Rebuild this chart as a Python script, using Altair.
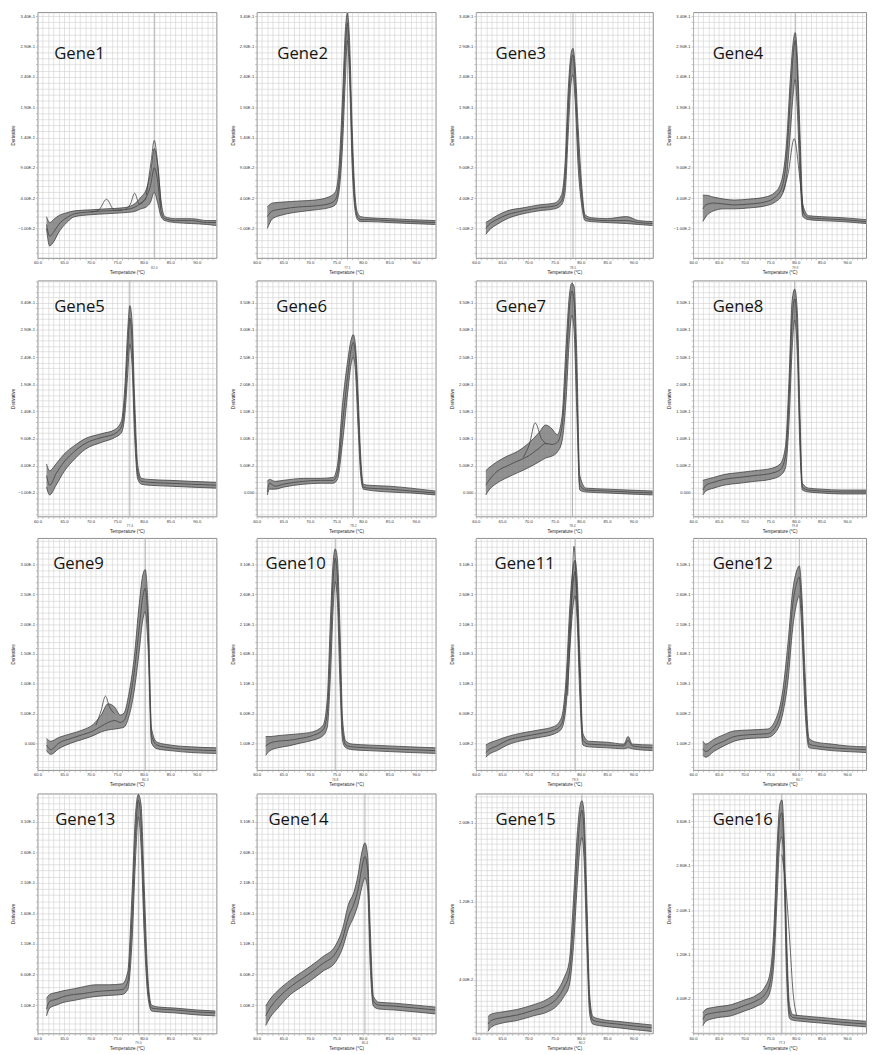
import json
import math
import altair as alt
import pandas as pd

# ---------------- data (derivative values in units of 1E-2) ----------------
GENES = [f"Gene{i}" for i in range(1, 17)]

T_1 = [61.7, 62.3, 63, 64, 65.5, 67, 70, 73, 76, 78, 79.5, 80.5, 81.3, 82, 82.6, 83.3, 84, 86, 89, 92, 93.7]
MID_1 = [-0.35, -2.29, -1.65, -0.35, 0.77, 1.42, 1.74, 1.90, 2.06, 2.39, 3.19, 4.16, 6.10, 9.0, 7.06, 1.74, 0.61, 0.29, 0.29, -0.03, -0.03]
HI_1 = [0.94, -0.03, 0.45, 1.10, 1.58, 1.90, 2.06, 2.23, 2.39, 2.87, 4.16, 5.45, 8.19, 12.2, 9.8, 3.35, 0.94, 0.61, 0.61, 0.29, 0.29]
LO_1 = [-1.0, -3.9, -3.26, -1.65, -0.03, 0.94, 1.26, 1.42, 1.58, 1.74, 2.23, 2.55, 3.35, 4.97, 3.35, 0.94, 0.29, -0.03, -0.19, -0.35, -0.52]
X1A_T = [70, 71.5, 73, 74.5, 76]
X1A_V = [1.7, 2.0, 3.8, 2.0, 2.0]
X1B_T = [76.5, 77.5, 78.3, 79.2, 80.5]
X1B_V = [2.1, 3.0, 4.8, 3.0, 4.0]
X1C_T = [80.5, 81.4, 82, 82.6, 83.3]
X1C_V = [4.5, 10, 13.5, 10, 2.5]

T_2 = [62, 63, 65, 68, 71, 73.5, 74.8, 75.5, 76.2, 76.7, 77.1, 77.5, 78, 78.5, 79, 79.6, 81, 85, 89, 93.7]
MID_2 = [0.94, 1.90, 2.23, 2.55, 2.71, 3.03, 3.68, 6.58, 17.06, 28.35, 32.87, 26.74, 12.23, 3.35, 0.94, 0.45, 0.45, 0.29, 0.13, -0.03]
HI_2 = [2.55, 3.19, 3.35, 3.52, 3.68, 4.16, 4.97, 9.0, 21.1, 31.6, 34.5, 29.97, 15.45, 4.97, 1.58, 0.94, 0.77, 0.61, 0.45, 0.29]
LO_2 = [-1.0, 0.61, 1.26, 1.74, 2.06, 2.39, 2.87, 4.97, 13.03, 23.5, 29.97, 23.5, 9.0, 2.23, 0.45, 0.13, 0.13, -0.03, -0.19, -0.35]

T_3 = [61.9, 62.5, 64, 66, 69, 72, 75, 76.3, 77, 77.6, 78.1, 78.5, 78.9, 79.5, 80.2, 80.8, 82, 85, 88.7, 91, 93.7]
MID_3 = [-1.0, -0.35, 0.45, 1.26, 1.90, 2.39, 2.71, 3.52, 7.39, 18.68, 25.94, 27.55, 23.52, 12.23, 4.16, 0.77, 0.45, 0.29, 0.29, -0.03, -0.19]
HI_3 = [-0.03, 0.29, 1.10, 1.90, 2.39, 2.87, 3.19, 4.48, 9.81, 21.9, 27.55, 28.68, 25.94, 15.45, 5.77, 1.26, 0.77, 0.61, 0.95, 0.29, 0.13]
LO_3 = [-1.97, -1.32, -0.35, 0.61, 1.42, 1.90, 2.23, 2.87, 4.97, 14.65, 22.7, 24.3, 20.3, 9.0, 2.55, 0.29, 0.13, -0.03, -0.19, -0.35, -0.52]

T_4 = [61.9, 62.5, 64, 66, 68, 71, 74, 76, 77.3, 78.2, 79, 79.5, 79.9, 80.3, 80.8, 81.4, 82.5, 85, 89, 93.7]
MID_4 = [2.23, 2.87, 3.19, 3.03, 2.87, 3.03, 3.35, 4.16, 5.77, 10.6, 21.1, 27.55, 29.97, 25.13, 12.23, 1.74, 0.77, 0.61, 0.45, 0.13]
HI_4 = [4.48, 4.48, 4.16, 3.84, 3.68, 3.84, 4.16, 4.97, 7.06, 13.03, 24.32, 29.65, 31.26, 27.55, 15.45, 2.87, 1.10, 0.94, 0.77, 0.45]
LO_4 = [0.13, 0.94, 1.90, 2.23, 2.23, 2.39, 2.71, 3.35, 4.48, 7.39, 15.45, 21.1, 23.5, 18.7, 8.19, 0.94, 0.45, 0.29, 0.13, -0.19]
X4A_T = [77.5, 78.5, 79.7, 80.7, 81.5]
X4A_V = [5, 8, 13.8, 8, 1.5]

T_5 = [61.7, 62.3, 63.5, 65, 67, 69, 72, 74.5, 75.8, 76.5, 77, 77.4, 77.8, 78.3, 78.9, 79.6, 81, 85, 89, 93.7]
MID_5 = [2.21, 0.43, 2.57, 4.71, 6.68, 8.11, 9.18, 9.89, 11.14, 16.5, 25.43, 31.14, 27.21, 12.93, 2.57, 1.14, 0.96, 0.79, 0.61, 0.43]
HI_5 = [4.36, 3.11, 4.36, 6.14, 7.75, 9.0, 9.89, 10.61, 12.21, 19.18, 29.0, 33.46, 30.79, 16.5, 4.0, 1.68, 1.5, 1.32, 1.14, 0.96]
LO_5 = [0.07, -1.36, 0.43, 2.93, 5.25, 7.04, 8.29, 9.18, 10.07, 13.82, 20.96, 26.32, 22.75, 9.36, 1.5, 0.61, 0.43, 0.25, 0.07, -0.11]

T_6 = [62, 62.4, 63.5, 65, 68.8, 72, 74.4, 75.2, 76.2, 77.2, 77.8, 78.2, 78.6, 79.1, 79.6, 80.1, 81, 85, 89, 93.7]
MID_6 = [0.18, 1.79, 1.25, 1.61, 2.14, 2.32, 2.32, 3.57, 13.04, 21.96, 26.43, 27.68, 25.54, 15.71, 5.0, 1.07, 0.89, 0.71, 0.36, 0.0]
HI_6 = [2.14, 2.5, 2.14, 2.32, 2.68, 2.68, 2.86, 5.0, 16.61, 24.64, 28.21, 29.11, 27.32, 18.39, 6.79, 1.61, 1.43, 1.25, 0.89, 0.36]
LO_6 = [-0.36, 0.71, 0.71, 1.07, 1.61, 1.79, 1.79, 2.5, 9.46, 18.93, 23.75, 25.0, 22.5, 12.14, 3.21, 0.71, 0.54, 0.18, 0.0, -0.36]

T_7 = [61.9, 62.5, 64, 66, 68, 70, 72, 73.3, 74.5, 75.5, 76.4, 77.2, 77.8, 78.3, 78.7, 79.2, 79.8, 81, 85, 89, 93.7]
MID_7 = [1.43, 2.32, 3.93, 5.0, 5.89, 6.79, 8.21, 9.11, 8.93, 9.29, 12.14, 22.86, 33.57, 37.14, 35.36, 21.07, 1.43, 0.54, 0.36, 0.18, 0.0]
HI_7 = [4.11, 4.64, 5.71, 6.79, 7.68, 9.11, 11.07, 12.5, 11.79, 10.71, 13.93, 27.32, 36.25, 38.57, 38.04, 26.43, 3.21, 0.89, 0.71, 0.54, 0.36]
LO_7 = [-0.36, 0.54, 1.79, 2.86, 3.75, 4.64, 5.71, 6.43, 6.79, 7.5, 9.46, 17.5, 28.21, 32.68, 30.0, 15.71, 0.54, 0.18, 0.0, -0.18, -0.36]
X7A_T = [69, 70.2, 71.3, 72.5, 73.5]
X7A_V = [6.5, 9, 12.9, 10, 9]

T_8 = [61.9, 62.5, 64, 66, 69, 72, 75, 77, 78, 78.7, 79.3, 79.8, 80.3, 80.8, 81.3, 82.5, 85, 89, 93.7]
MID_8 = [0.54, 1.43, 1.96, 2.5, 2.86, 3.21, 3.57, 4.29, 6.79, 17.5, 31.79, 35.71, 30.0, 12.14, 1.07, 0.54, 0.36, 0.18, 0.18]
HI_8 = [2.32, 2.5, 2.86, 3.39, 3.75, 4.11, 4.46, 5.36, 8.57, 21.07, 35.36, 37.5, 33.57, 15.71, 1.79, 0.89, 0.71, 0.54, 0.54]
LO_8 = [-0.36, 0.36, 0.89, 1.43, 1.79, 2.14, 2.5, 3.21, 4.64, 13.04, 26.43, 31.79, 25.54, 8.57, 0.54, 0.18, 0.0, -0.18, -0.18]

T_9 = [61.7, 62.5, 64, 66.3, 68.5, 70.5, 72, 73.3, 74.6, 75.6, 76.3, 77.2, 78.2, 79.2, 79.8, 80.3, 80.8, 81.5, 82.5, 85, 89, 93.7]
MID_9 = [-0.32, -1.1, 0, 0.79, 1.42, 2.05, 2.84, 3.47, 3.79, 3.47, 3.79, 6.31, 11.83, 19.72, 24.45, 26.03, 20.5, 1.26, -0.32, -0.79, -1.1, -1.26]
HI_9 = [0.79, 0.32, 0.95, 1.58, 2.21, 3.15, 4.73, 6.62, 5.99, 4.73, 5.05, 8.2, 14.2, 23.66, 28.08, 29.18, 23.66, 2.37, 0.16, -0.32, -0.63, -0.79]
LO_9 = [-1.26, -1.89, -0.95, 0, 0.63, 1.26, 1.89, 2.21, 2.37, 2.52, 2.68, 4.42, 8.68, 15.77, 20.5, 22.08, 16.56, 0, -0.95, -1.26, -1.58, -1.74]
X9A_T = [71, 72, 72.8, 73.6, 74.5]
X9A_V = [3.0, 5.5, 7.9, 6.0, 5.0]

T_10 = [61.7, 62.5, 64, 66, 68.2, 70.5, 72.5, 73.3, 73.9, 74.4, 74.8, 75.2, 75.7, 76.2, 76.8, 78, 81, 85, 89, 93.7]
MID_10 = [0.53, 1.0, 1.32, 1.47, 1.79, 2.26, 3.21, 6.05, 17.09, 28.13, 32.07, 28.92, 15.51, 2.89, 0.68, 0.37, 0.21, 0.05, -0.1, -0.26]
HI_10 = [2.1, 2.1, 2.26, 2.42, 2.58, 2.89, 4.0, 8.41, 21.82, 31.28, 33.65, 32.07, 20.24, 4.79, 1.32, 0.84, 0.68, 0.53, 0.37, 0.21]
LO_10 = [-1.05, -0.26, 0.21, 0.53, 1.0, 1.47, 2.26, 3.68, 12.36, 23.4, 28.13, 24.97, 10.78, 1.32, 0.21, -0.1, -0.26, -0.42, -0.58, -0.73]

T_11 = [61.9, 62.5, 64, 66, 69, 72, 75, 76.3, 77.2, 77.9, 78.5, 78.9, 79.3, 79.8, 80.4, 81.5, 85, 88.2, 89, 89.8, 93.7]
MID_11 = [-0.58, -0.1, 0.53, 1.47, 2.1, 2.58, 3.21, 4.15, 9.68, 20.72, 27.81, 29.86, 25.45, 12.83, 1.47, 0.84, 0.68, 0.53, 1.47, 0.53, 0.21]
HI_11 = [0.68, 1.0, 1.47, 2.1, 2.74, 3.21, 3.84, 5.26, 12.04, 23.87, 30.5, 31.76, 28.6, 15.98, 2.58, 1.32, 1.16, 0.84, 2.1, 0.84, 0.68]
LO_11 = [-1.37, -0.89, -0.26, 0.68, 1.47, 1.95, 2.58, 3.37, 7.31, 16.77, 23.87, 25.76, 21.5, 8.89, 0.68, 0.37, 0.21, 0.05, 0.21, 0.05, -0.26]
X11A_T = [77.5, 78.2, 78.7, 79.2, 79.8]
X11A_V = [9, 24, 34.1, 26, 12]

T_12 = [61.9, 62.5, 64, 66, 68, 71, 74.5, 76, 77.5, 78.5, 79.4, 80.1, 80.7, 81.2, 81.8, 82.6, 84, 87, 90, 93.7]
MID_12 = [0.05, -0.42, 0.53, 1.32, 2.1, 2.42, 2.58, 3.68, 7.94, 14.72, 24.19, 27.66, 28.92, 22.6, 9.99, 0.84, 0.53, 0.21, 0.05, -0.1]
HI_12 = [1.32, 0.84, 1.63, 2.42, 3.05, 3.21, 3.37, 4.79, 9.99, 17.88, 26.55, 29.71, 30.81, 25.76, 13.15, 1.79, 1.16, 0.84, 0.53, 0.37]
LO_12 = [-1.05, -1.37, -0.42, 0.53, 1.32, 1.79, 1.95, 2.74, 6.05, 11.57, 20.24, 24.19, 25.76, 19.45, 6.84, 0.21, 0.05, -0.26, -0.42, -0.58]

T_13 = [61.7, 62.3, 63.5, 65, 67, 68.7, 71, 73.5, 76, 77, 77.8, 78.5, 79, 79.5, 80.1, 80.8, 81.5, 83, 86, 90, 93.5]
MID_13 = [0.37, 1.63, 1.95, 2.43, 2.75, 2.9, 3.22, 3.38, 3.54, 4.81, 15.13, 29.41, 34.49, 31.0, 16.71, 4.02, 0.52, 0.37, 0.21, -0.11, -0.27]
HI_13 = [2.11, 2.75, 3.06, 3.38, 3.7, 4.02, 4.33, 4.33, 4.49, 6.4, 19.1, 32.59, 35.44, 33.86, 20.68, 5.6, 1.0, 0.68, 0.52, 0.21, 0.05]
LO_13 = [-0.75, 0.52, 1.0, 1.48, 1.79, 2.11, 2.43, 2.59, 2.75, 3.54, 11.16, 25.44, 31.79, 27.03, 12.75, 2.43, 0.05, -0.11, -0.27, -0.59, -0.75]

T_14 = [61.7, 62.5, 64, 66.4, 68.5, 70.1, 72.5, 74.8, 76.2, 77.3, 78.3, 79.1, 79.8, 80.4, 80.9, 81.4, 82, 83, 86, 90, 93.7]
MID_14 = [-0.75, 0.52, 2.11, 4.02, 5.29, 6.24, 7.83, 9.41, 11.95, 15.44, 17.51, 19.89, 23.38, 25.29, 23.06, 10.37, 1.63, 1.0, 0.84, 0.52, 0.21]
HI_14 = [0.84, 1.95, 3.38, 5.13, 6.4, 7.35, 8.94, 10.68, 13.54, 17.51, 19.41, 22.27, 25.92, 27.51, 25.44, 13.54, 2.43, 1.48, 1.32, 1.0, 0.68]
LO_14 = [-2.33, -1.06, 0.52, 2.75, 4.02, 4.97, 6.56, 7.98, 10.37, 13.54, 15.44, 17.51, 20.21, 21.79, 19.89, 7.19, 0.84, 0.37, 0.21, -0.11, -0.43]

T_15 = [62.3, 63, 65, 68, 71, 73.6, 75.5, 76.8, 77.8, 78.6, 79.3, 79.8, 80.2, 80.6, 81.1, 81.7, 82.3, 84, 87, 90, 93.5]
MID_15 = [-0.52, -0.14, 0.14, 0.42, 0.89, 1.37, 2.12, 3.25, 4.66, 9.84, 16.42, 20.19, 21.31, 19.25, 10.78, 1.37, -0.14, -0.33, -0.52, -0.71, -0.89]
HI_15 = [0.24, 0.52, 0.71, 0.99, 1.46, 2.02, 2.87, 4.19, 5.88, 12.19, 18.77, 21.6, 22.26, 21.13, 13.13, 2.31, 0.24, -0.05, -0.24, -0.42, -0.61]
LO_15 = [-1.27, -0.8, -0.42, -0.14, 0.33, 0.71, 1.37, 2.31, 3.44, 7.48, 13.6, 17.36, 18.49, 16.42, 7.95, 0.42, -0.52, -0.71, -0.89, -1.08, -1.27]

T_16 = [61.9, 62.5, 64, 67.5, 70, 72.3, 74, 75, 75.8, 76.4, 76.9, 77.3, 77.7, 78.2, 78.8, 79.5, 81, 85, 89, 93.7]
MID_16 = [0.33, 1.17, 1.5, 2.0, 2.83, 3.67, 4.83, 7.0, 14.5, 27.83, 36.5, 37.5, 31.17, 12.83, 1.5, 0.67, 0.5, 0.17, -0.17, -0.5]
HI_16 = [1.5, 2.17, 2.5, 3.0, 3.83, 4.67, 6.17, 8.67, 17.83, 32.0, 39.0, 39.83, 34.5, 16.17, 2.83, 1.17, 1.0, 0.67, 0.33, 0.0]
LO_16 = [-0.83, 0.0, 0.5, 1.0, 1.83, 2.67, 3.67, 5.33, 11.17, 22.83, 32.0, 33.17, 27.0, 8.67, 0.5, 0.17, 0.0, -0.33, -0.67, -1.0]
X16A_T = [77.3, 78, 78.8, 79.5, 80.2]
X16A_V = [30, 25, 15, 5, 1]

# melting temperature marker of each panel
TM = [82.0, 77.1, 78.5, 79.9, 77.4, 78.2, 78.4, 79.8, 80.3, 74.8, 78.9, 80.7, 79.0, 80.4, 80.2, 77.3]

# y-axis tick labels: first label, step, number of labels (units of 1E-2)
Y_BASE = [-1, -1, -1, -1, -1, 0, 0, 0, 0, 1, 1, 1, 1, 1, 4, 4]
Y_STEP = [5] * 14 + [8, 8]
Y_NLAB = [8] * 8 + [7] * 6 + [3, 5]
Y_DOMAIN = [[-5.84, 34.65]] * 4 + [[-5.29, 38.1], [-4.29, 39.1], [-4.29, 39.1], [-4.29, 39.1],
            [-4.5, 34.5], [-3.5, 35.5], [-3.5, 35.5], [-3.5, 35.5],
            [-3.6, 35.6], [-3.6, 35.6], [-1.46, 23.0], [-2.17, 41.0]]
X_LABELS = [60, 65, 70, 75, 80, 85, 90]

TS = [T_1, T_2, T_3, T_4, T_5, T_6, T_7, T_8, T_9, T_10, T_11, T_12, T_13, T_14, T_15, T_16]
HIS = [HI_1, HI_2, HI_3, HI_4, HI_5, HI_6, HI_7, HI_8, HI_9, HI_10, HI_11, HI_12, HI_13, HI_14, HI_15, HI_16]
MIDS = [MID_1, MID_2, MID_3, MID_4, MID_5, MID_6, MID_7, MID_8, MID_9, MID_10, MID_11, MID_12, MID_13, MID_14, MID_15, MID_16]
LOS = [LO_1, LO_2, LO_3, LO_4, LO_5, LO_6, LO_7, LO_8, LO_9, LO_10, LO_11, LO_12, LO_13, LO_14, LO_15, LO_16]
EXTRAS = {0: [(X1A_T, X1A_V), (X1B_T, X1B_V), (X1C_T, X1C_V)], 3: [(X4A_T, X4A_V)],
          6: [(X7A_T, X7A_V)], 8: [(X9A_T, X9A_V)], 10: [(X11A_T, X11A_V)], 15: [(X16A_T, X16A_V)]}

# ---------------- layout / style ----------------
ROW_H = [250, 240, 236, 244]
COL_W = [182, 182, 180, 176]
Y_NSUB = [5] * 14 + [15, 8]
LABEL_DX = [17, 21, 20, 20, 17, 20, 20, 20, 16, 9, 19, 20, 18, 12, 20, 20]
LABEL_DY = [48, 32, 32, 32]
LINE_C = "#444444"
BAND_C = "#6e6e6e"


def panel(g, w, h, dy):
    T = TS[g]
    rows = []
    for name, vals in (("hi", HIS[g]), ("mid", MIDS[g]), ("lo", LOS[g])):
        for t, v in zip(T, vals):
            rows.append({"T": t, "v": v, "s": name})
    for k, (xt, xv) in enumerate(EXTRAS.get(g, [])):
        for t, v in zip(xt, xv):
            rows.append({"T": t, "v": v, "s": f"x{k}"})
    df = pd.DataFrame(rows)
    band = pd.DataFrame({"T": T, "lo": LOS[g], "hi": HIS[g]})

    base, step, nlab, nsub = Y_BASE[g], Y_STEP[g], Y_NLAB[g], Y_NSUB[g]
    lo, hi = Y_DOMAIN[g]
    minor = step / nsub
    jmin = math.ceil((lo - base) / minor)
    jmax = math.floor((hi - base) / minor)
    yvals = [round(base + j * minor, 6) for j in range(jmin, jmax + 1)]
    majors = [round(base + k * step, 6) for k in range(nlab)]
    ylab = (f"indexof({json.dumps(majors)}, datum.value) >= 0 ? "
            "(datum.value == 0 ? '0.000' : replace(format(datum.value/100, '.2e'), 'e', 'E')) : ''")

    xs = alt.Scale(domain=[60, 93.7], nice=False, zero=False)
    ys = alt.Scale(domain=[lo, hi], nice=False, zero=False)
    xaxis = alt.Axis(values=list(range(60, 94)), title="Temperature (°C)",
                     labelExpr=f"indexof({json.dumps(X_LABELS)}, datum.value) >= 0 ? format(datum.value, '.1f') : ''")
    yaxis = alt.Axis(values=yvals, title="Derivative", labelExpr=ylab)

    xenc = alt.X("T:Q", scale=xs, axis=xaxis)

    area = alt.Chart(band).mark_area(color=BAND_C, opacity=0.75, interpolate="monotone", clip=True).encode(
        x=xenc, y=alt.Y("lo:Q", scale=ys, axis=yaxis), y2="hi:Q")
    lines = alt.Chart(df).mark_line(color=LINE_C, strokeWidth=0.9, opacity=0.9,
                                    interpolate="monotone", clip=True).encode(
        x=xenc, y=alt.Y("v:Q", scale=ys, axis=yaxis), detail="s:N")
    tmdf = pd.DataFrame({"T": [TM[g]], "lab": [f"{TM[g]:.1f}"]})
    rule = alt.Chart(tmdf).mark_rule(color="#b0b0b0", strokeWidth=1).encode(x=xenc)
    tmlab = alt.Chart(tmdf).mark_text(fontSize=3.4, color="#555555", baseline="top", font="Liberation Sans").encode(
        x=xenc, y=alt.value(h + 8), text="lab:N")
    title = alt.Chart(pd.DataFrame({"name": [GENES[g]]})).mark_text(
        font="Open Sans", fontSize=17, align="left", baseline="alphabetic", color="#151515").encode(
        x=alt.value(LABEL_DX[g]), y=alt.value(dy), text="name:N")
    return alt.layer(rule, area, lines, tmlab, title).properties(width=w, height=h)


rows = []
for r in range(4):
    rows.append(alt.hconcat(*[panel(r * 4 + c, COL_W[c], ROW_H[r], LABEL_DY[r]) for c in range(4)], spacing=12))

chart = alt.vconcat(*rows, spacing=3).properties(
    padding={"left": 2, "top": -6, "right": 2, "bottom": 0}
).configure_view(
    stroke="#8c8c8c", strokeWidth=1
).configure_axis(
    domain=False, grid=True, gridColor="#cfcfcf", gridWidth=0.6,
    tickSize=2, tickColor="#999999", tickWidth=0.6,
    labelFont="Liberation Sans", labelFontSize=4.2, labelColor="#333333", labelPadding=1,
    titleFont="Liberation Sans", titleFontSize=4.6, titleColor="#222222", titleFontWeight="normal",
).configure_axisY(
    minExtent=20, maxExtent=20, titlePadding=2, labelOverlap=False
).configure_axisX(
    titlePadding=5, labelFlush=False, labelOverlap=False
)

chart.save("out.html", embed_options={"renderer": "svg", "actions": False})
